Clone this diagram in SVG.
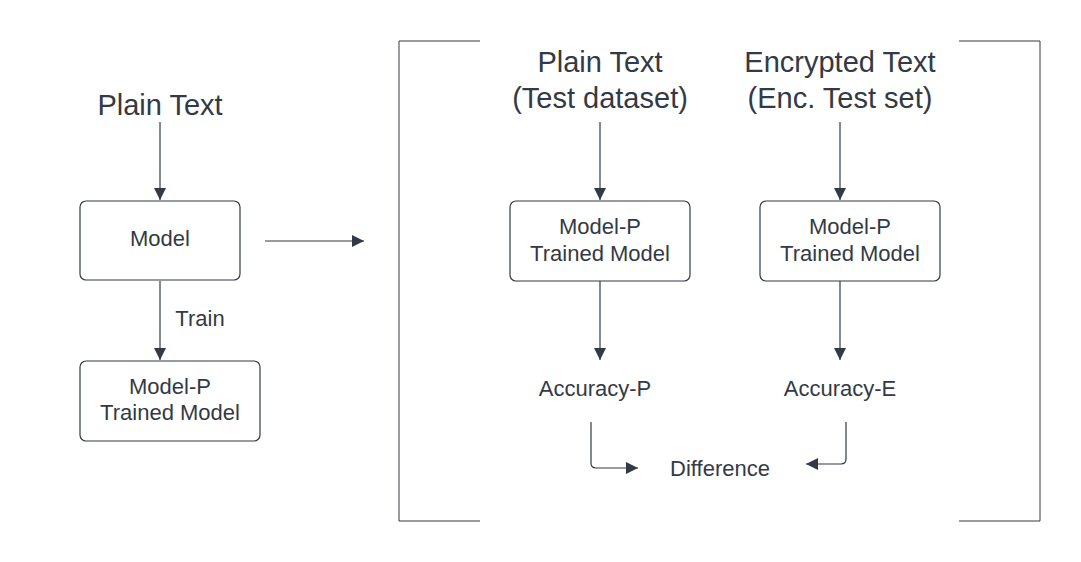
<svg xmlns="http://www.w3.org/2000/svg" width="1081" height="562" viewBox="0 0 1081 562">
<defs>
<style>
.t{font-family:"Liberation Sans",Arial,sans-serif;fill:#333a45;text-anchor:middle}
.big{font-size:29px}
.sm{font-size:22px}
.box{fill:#fff;stroke:#333a45;stroke-width:1.2}
.ln{fill:none;stroke:#333a45;stroke-width:1.2}
.br{fill:none;stroke:#333a45;stroke-width:1}
</style>
<marker id="ah" viewBox="0 0 12 12" markerWidth="12" markerHeight="12" refX="12" refY="6" orient="auto" markerUnits="userSpaceOnUse">
<path d="M0,0 L12,6 L0,12 Z" fill="#333a45"/>
</marker>
</defs>
<rect width="1081" height="562" fill="#fff"/>
<g id="plain-text-left"><text class="t big" x="160" y="115">Plain Text</text></g>
<g id="model"><rect class="box" x="80" y="201" width="160" height="79" rx="6"/><text class="t sm" x="160" y="246">Model</text></g>
<g id="train-label"><text class="t sm" x="200" y="326">Train</text></g>
<g id="model-p-left"><rect class="box" x="80" y="361" width="180" height="80" rx="6"/><text class="t sm" x="170" y="394">Model-P</text><text class="t sm" x="170" y="420">Trained Model</text></g>
<g id="bracket"><path class="br" d="M480,41 H399 V521 H480"/><path class="br" d="M959,41 H1040 V521 H959"/></g>
<g id="plain-text-test"><text class="t big" x="600" y="72">Plain Text</text><text class="t big" x="600" y="108">(Test dataset)</text></g>
<g id="enc-text"><text class="t big" x="840" y="72">Encrypted Text</text><text class="t big" x="840" y="108">(Enc. Test set)</text></g>
<g id="model-p-plain"><rect class="box" x="510" y="201" width="180" height="80" rx="6"/><text class="t sm" x="600" y="234">Model-P</text><text class="t sm" x="600" y="261">Trained Model</text></g>
<g id="model-p-enc"><rect class="box" x="760" y="201" width="180" height="80" rx="6"/><text class="t sm" x="850" y="234">Model-P</text><text class="t sm" x="850" y="261">Trained Model</text></g>
<g id="acc-p"><text class="t sm" x="595" y="396">Accuracy-P</text></g>
<g id="acc-e"><text class="t sm" x="840" y="396">Accuracy-E</text></g>
<g id="difference"><text class="t sm" x="720" y="476">Difference</text></g>
<g id="connectors">
<path class="ln" d="M160,122 V200" marker-end="url(#ah)"/>
<path class="ln" d="M160,281 V360" marker-end="url(#ah)"/>
<path class="ln" d="M265,241 H364" marker-end="url(#ah)"/>
<path class="ln" d="M600,122 V200" marker-end="url(#ah)"/>
<path class="ln" d="M840,122 V200" marker-end="url(#ah)"/>
<path class="ln" d="M600,281 V360" marker-end="url(#ah)"/>
<path class="ln" d="M840,281 V360" marker-end="url(#ah)"/>
<path class="ln" d="M591,422 V463 Q591,468 596,468 H638" marker-end="url(#ah)"/>
<path class="ln" d="M846,422 V459 Q846,464 841,464 H806" marker-end="url(#ah)"/>
</g>
</svg>
